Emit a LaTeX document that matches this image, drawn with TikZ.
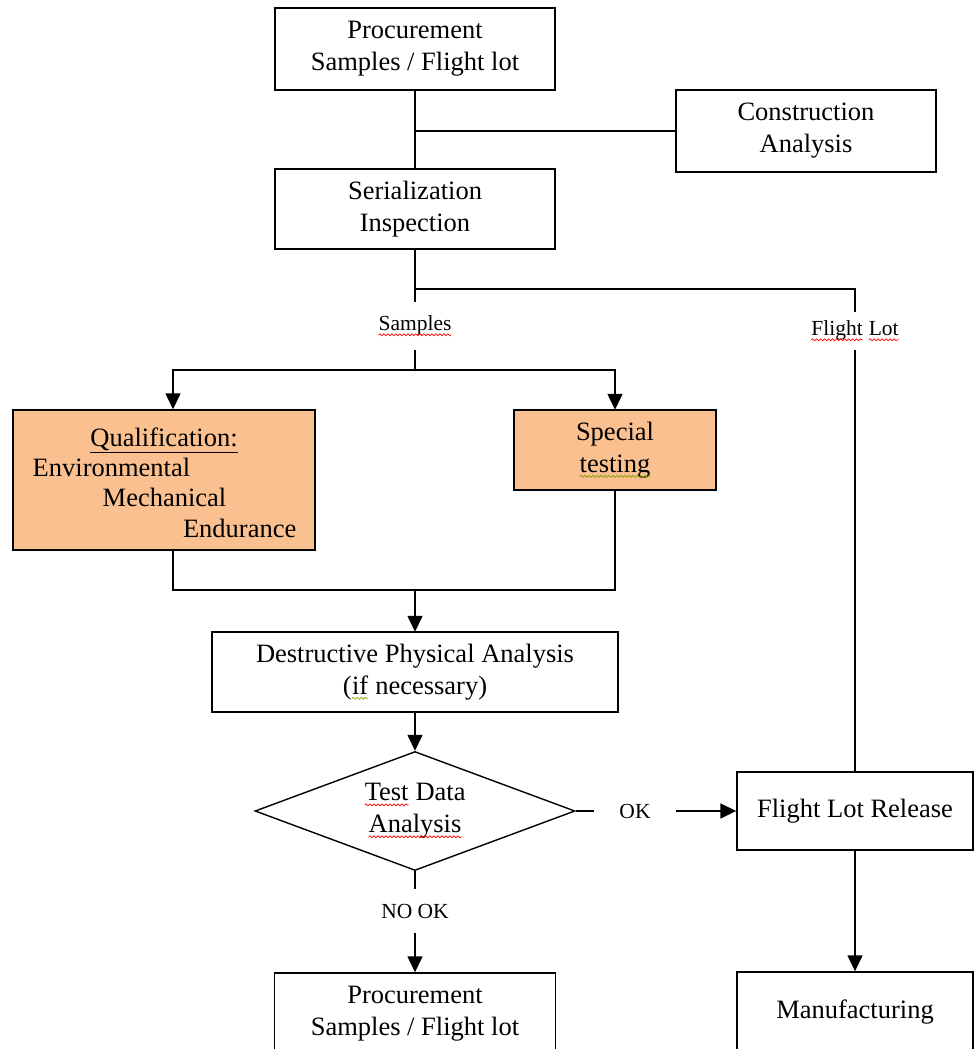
\documentclass[tikz,border=0pt]{standalone}
\usepackage{fontspec}
\setmainfont{Liberation Serif}
\usetikzlibrary{arrows.meta,shapes.geometric,decorations.pathmorphing}
\definecolor{peach}{RGB}{250,192,143}
\definecolor{wavegreen}{RGB}{130,160,0}
\newcommand\bigtxt{\fontsize{26.5}{32}\selectfont}
\newcommand\smalltxt{\fontsize{21.5}{26}\selectfont}
\newcommand\wavy[2]{\tikz[baseline=(w.base)]{\node[rectangle,draw=none,fill=none,inner sep=0pt,outer sep=0pt,minimum width=0pt,minimum height=0pt] (w) {#2}; \draw[#1,line width=0.7pt,decorate,decoration={snake,amplitude=1pt,segment length=4pt}] ([yshift=-4pt]w.base west) -- ([yshift=-4pt]w.base east);}}
\begin{document}
\begin{tikzpicture}[x=1pt,y=-1pt,line width=1.4pt,
  box/.style={draw, rectangle, inner sep=0pt, align=center, font=\bigtxt},
  lab/.style={inner sep=0pt, font=\smalltxt},
  qtxt/.style={inner sep=0pt, font=\bigtxt},
  arr/.style={-{Triangle[length=16pt,width=15pt]}}]
\useasboundingbox (0,0) rectangle (974,1049);
\clip (0,0) rectangle (974,1049);

% boxes
\node[box, minimum width=280, minimum height=82] (proc) at (415,49) {Procurement\\Samples / Flight lot};
\node[box, minimum width=260, minimum height=82] (con) at (806,131) {Construction\\Analysis};
\node[box, minimum width=280, minimum height=80] (ser) at (415,209) {Serialization\\Inspection};
\node[box, fill=peach, minimum width=302, minimum height=140] (qual) at (164,480) {};
\node[box, fill=peach, minimum width=202, minimum height=80] (spec) at (615,450) {Special\\\wavy{wavegreen}{testing}};
\node[box, minimum width=406, minimum height=80] (dpa) at (415,672) {Destructive Physical Analysis\\(\wavy{wavegreen}{if} necessary)};
\node[draw, diamond, inner sep=0pt, minimum width=320, minimum height=119] (dia) at (415,811) {};
\node[qtxt, align=center] (diatxt) at (dia.center) {\wavy{red}{Test} Data\\\wavy{red}{Analysis}};
\node[box, minimum width=236, minimum height=78] (flr) at (855,811) {Flight Lot Release};
\node[box, minimum width=281, minimum height=82] (proc2) at (415,1014) {Procurement\\Samples / Flight lot};
\node[box, minimum width=236, minimum height=80] (man) at (855,1012) {Manufacturing};

% qualification text
\node[qtxt, anchor=base] (q1) at (164,446) {\underline{Qualification:}};
\node[qtxt, anchor=base west] (q2) at (32,476) {Environmental};
\node[qtxt, anchor=base west] (q3) at (102,506) {Mechanical};
\node[qtxt, anchor=base east] (q4) at (297,537) {Endurance};

% labels on connectors
\node[lab, minimum height=48] (samp) at (415,326) {\wavy{red}{Samples}};
\node[lab, minimum height=38] (flt) at (855,331) {\wavy{red}{Flight} \wavy{red}{Lot}};
\node[lab, minimum width=80] (okl) at (635,811) {OK};
\node[lab, minimum height=42] (nook) at (415,911) {NO OK};

% junctions
\coordinate (j0) at (415,131);
\coordinate (j1) at (415,289);
\coordinate (j2) at (415,370);
\coordinate (j3) at (415,590);

% connectors
\draw (proc.south) -- (ser.north);
\draw (j0) -- (con.west);
\draw (ser.south) -- (samp.north);
\draw (j1) -| (flt.north);
\draw (flt.south) -- (flr.north);
\draw (samp.south) -- (j2);
\draw[arr] (j2) -| ([xshift=9pt]qual.north);
\draw[arr] (j2) -| (spec.north);
\draw ([xshift=9pt]qual.south) |- (j3);
\draw (spec.south) |- (j3);
\draw[arr] (j3) -- (dpa.north);
\draw[arr] (dpa.south) -- (dia.north);
\draw (dia.east) -- (okl.west);
\draw[arr] (okl.east) -- (flr.west);
\draw (dia.south) -- (nook.north);
\draw[arr] (nook.south) -- (proc2.north);
\draw[arr] (flr.south) -- (man.north);
\end{tikzpicture}
\end{document}
